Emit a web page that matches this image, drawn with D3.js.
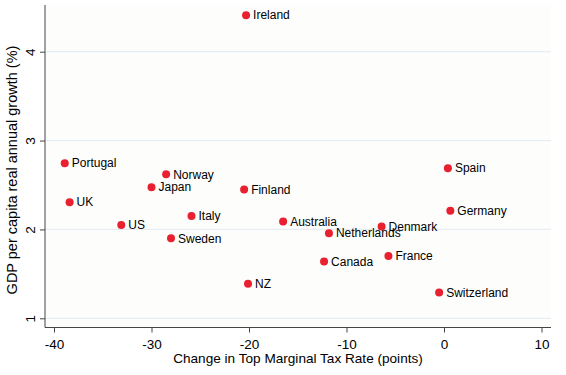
<!DOCTYPE html>
<html><head><meta charset="utf-8">
<script src="https://cdn.jsdelivr.net/npm/d3@7"></script>
<style>body{margin:0;background:#fff}svg{display:block}text{font-family:Arial,"Liberation Sans",sans-serif}</style>
</head><body>
<script>
const countries = ["Ireland","Portugal","Norway","Japan","UK","US","Sweden","Italy","Finland","Australia","Netherlands","Canada","NZ","Denmark","France","Spain","Germany","Switzerland"];
const taxChange = [-20.3,-38.9,-28.5,-30.0,-38.4,-33.1,-28.0,-25.9,-20.5,-16.5,-11.8,-12.3,-20.1,-6.4,-5.7,0.4,0.65,-0.5];
const growth = [4.41,2.745,2.62,2.475,2.306,2.05,1.90,2.15,2.45,2.088,1.957,1.638,1.39,2.032,1.70,2.688,2.21,1.29];
const xTicks = [-40,-30,-20,-10,0,10];
const yTicks = [1,2,3,4];

const W=566,H=375;
const svg=d3.select("body").append("svg").attr("width",W).attr("height",H);
svg.append("rect").attr("width",W).attr("height",H).attr("fill","#fff");
const x=d3.scaleLinear().domain([-40,10]).range([54,541.5]);
const y=d3.scaleLinear().domain([1,4]).range([318.3,51.7]);
const pL=45,pR=551,pT=5,pB=327.5;
svg.append("rect").attr("x",pL).attr("y",pT).attr("width",pR-pL).attr("height",pB-pT).attr("fill","#fdfdfc");

// gridlines
svg.append("g").selectAll("line").data(yTicks).join("line")
  .attr("x1",pL).attr("x2",pR).attr("y1",d=>y(d)).attr("y2",d=>y(d))
  .attr("stroke","#e6eef4").attr("stroke-width",1.2);

// axes
const xAxis=svg.append("g").attr("transform",`translate(0,${pB})`)
  .call(d3.axisBottom(x).tickValues(xTicks).tickSize(5).tickPadding(7).tickFormat(d=>String(d)));
xAxis.select(".domain").attr("d",`M${pL},0H${pR}`).attr("stroke","#444");
xAxis.selectAll(".tick line").attr("stroke","#444");
xAxis.selectAll("text").attr("font-size",13.5).attr("fill","#000").attr("font-family","Arial,'Liberation Sans',sans-serif");

const yAxis=svg.append("g").attr("transform",`translate(${pL},0)`)
  .call(d3.axisLeft(y).tickValues(yTicks).tickSize(5).tickFormat(d=>String(d)));
yAxis.select(".domain").attr("d",`M0,${pT}V${pB}`).attr("stroke","#444");
yAxis.selectAll(".tick line").attr("stroke","#444");
yAxis.selectAll(".tick text").attr("transform","rotate(-90)").attr("x",0).attr("y",-10)
  .attr("dy","0").attr("text-anchor","middle").attr("font-size",13.5).attr("fill","#000")
  .attr("font-family","Arial,'Liberation Sans',sans-serif");

// titles
svg.append("text").attr("x",(pL+pR)/2).attr("y",363).attr("text-anchor","middle")
  .attr("font-size",13.6).attr("fill","#000").text("Change in Top Marginal Tax Rate (points)");
svg.append("text").attr("transform",`translate(17,170) rotate(-90)`).attr("text-anchor","middle")
  .attr("font-size",14.5).attr("fill","#000").text("GDP per capita real annual growth (%)");

// points
const data=countries.map((c,i)=>({c,x:taxChange[i],y:growth[i]}));
const g=svg.append("g");
g.selectAll("circle").data(data).join("circle")
  .attr("cx",d=>x(d.x)).attr("cy",d=>y(d.y)).attr("r",4).attr("fill","#e8202f");
g.selectAll("text").data(data).join("text")
  .attr("x",d=>x(d.x)+7).attr("y",d=>y(d.y)).attr("dy","0.35em")
  .attr("font-size",12).attr("fill","#000").text(d=>d.c);
</script>
</body></html>
